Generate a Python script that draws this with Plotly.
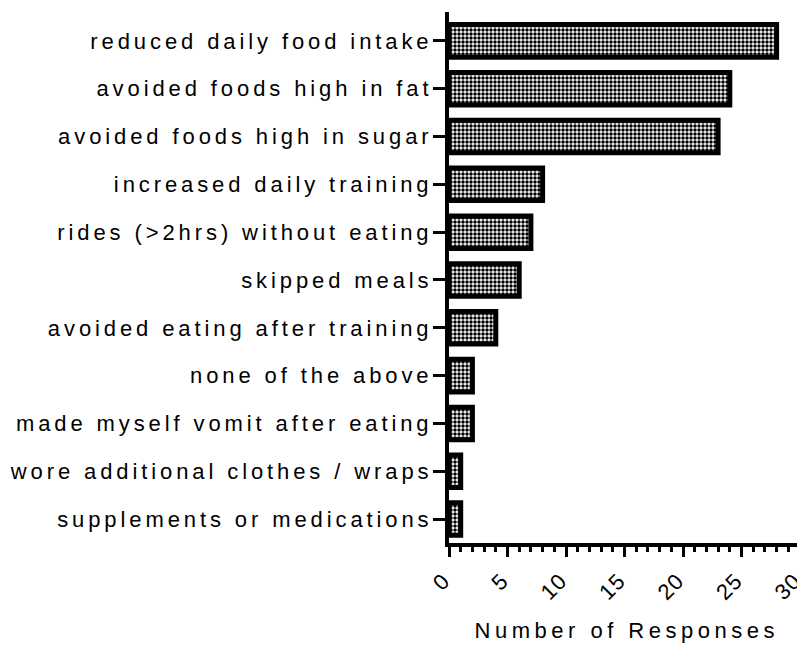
import plotly.graph_objects as go

categories = [
    "reduced daily food intake",
    "avoided foods high in fat",
    "avoided foods high in sugar",
    "increased daily training",
    "rides (>2hrs) without eating",
    "skipped meals",
    "avoided eating after training",
    "none of the above",
    "made myself vomit after eating",
    "wore additional clothes / wraps",
    "supplements or medications",
]
values = [28, 24, 23, 8, 7, 6, 4, 2, 2, 1, 1]
x_ticks = [0, 5, 10, 15, 20, 25, 30]
x_title = "Number of Responses"

FONT = "Liberation Sans, Arial, sans-serif"


def spaced(t, ls="3.9px"):
    # letter-spaced text, without trailing space after the last character
    if len(t) < 2:
        return t
    return f'<span style="letter-spacing:{ls}">{t[:-1]}</span>{t[-1]}'


fig = go.Figure(
    go.Bar(
        y=list(range(len(categories))),
        x=values,
        orientation="h",
        width=0.68,
        marker=dict(
            color="white",
            line=dict(color="black", width=5),
            pattern=dict(shape=".", fgcolor="black", bgcolor="white",
                         size=4, solidity=0.6, fillmode="replace"),
        ),
        showlegend=False,
    )
)

# page body has an 8px margin, so the figure is sized/margined to compensate
fig.update_layout(
    width=797,
    height=635,
    margin=dict(l=441, r=5, t=4, b=100),
    paper_bgcolor="white",
    plot_bgcolor="white",
    font=dict(family=FONT, size=22, color="black"),
)

fig.update_yaxes(
    range=[10.5, -0.604],
    tickmode="array",
    tickvals=list(range(len(categories))),
    ticktext=[spaced(c) for c in categories],
    showline=True,
    linecolor="black",
    linewidth=4,
    ticks="outside",
    ticklen=12,
    tickwidth=3,
    tickcolor="black",
    showgrid=False,
    zeroline=False,
    automargin=False,
    tickfont=dict(family=FONT, size=22, color="black"),
)

fig.update_xaxes(
    range=[0, 30],
    tickmode="array",
    tickvals=x_ticks,
    ticktext=[spaced(str(v), "1px") for v in x_ticks],
    tickangle=-45,
    ticklabeloverflow="allow",
    ticklabelshift=-6,
    ticklabelstandoff=3,
    showline=True,
    linecolor="black",
    linewidth=4,
    ticks="outside",
    ticklen=10,
    tickwidth=3,
    tickcolor="black",
    minor=dict(dtick=1, tick0=0, ticks="outside", ticklen=5, tickwidth=3, tickcolor="black"),
    showgrid=False,
    zeroline=False,
    automargin=False,
    tickfont=dict(family=FONT, size=22, color="black"),
    title=dict(text=spaced(x_title, "4.5px"), font=dict(family=FONT, size=22, color="black"), standoff=28),
)

fig.write_html("out.html")
